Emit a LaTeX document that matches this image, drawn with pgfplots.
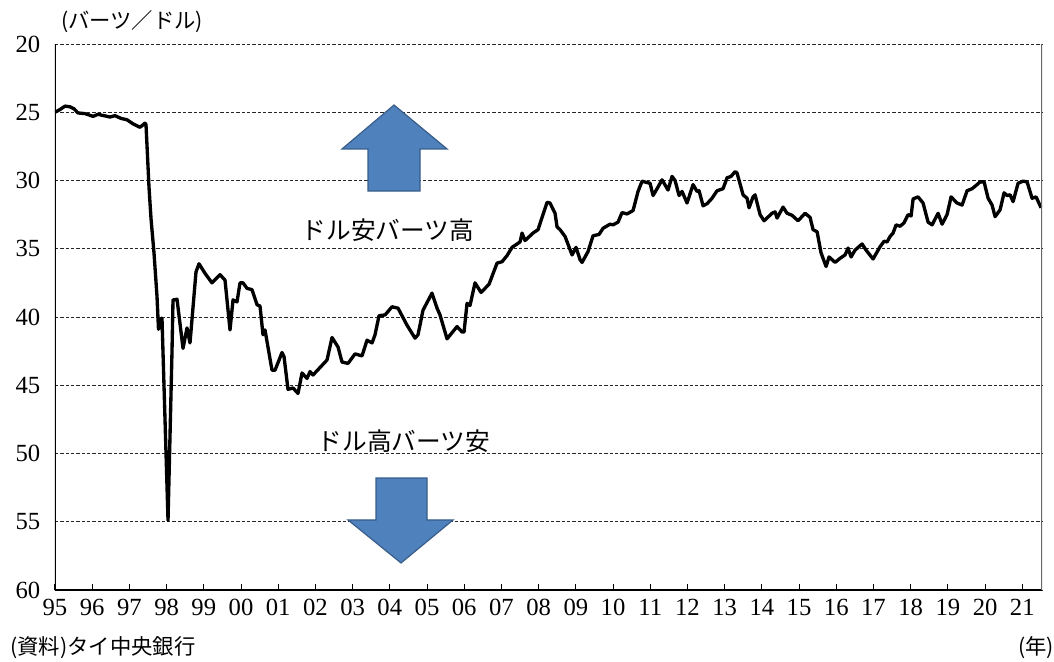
\documentclass[border=0pt]{standalone}
\usepackage{fontspec}
\setmainfont{Liberation Serif}
\newfontfamily\jp{Noto Sans CJK JP}
\usepackage{pgfplots}
\pgfplotsset{compat=1.18}
\definecolor{arrowfill}{HTML}{4F81BD}
\definecolor{arrowdraw}{HTML}{385D8A}
\begin{document}
\begin{tikzpicture}
\useasboundingbox (-41.25pt,-53.25pt) rectangle (749.25pt,442.5pt);
\begin{axis}[
  at={(0,0)}, anchor=south west,
  scale only axis, width=740.25pt, height=409.5pt,
  xmin=1995, xmax=2021.53, ymin=20, ymax=60, y dir=reverse,
  xtick={1995,1996,...,2021},
  xticklabels={95,96,97,98,99,00,01,02,03,04,05,06,07,08,09,10,11,12,13,14,15,16,17,18,19,20,21},
  ytick={20,25,...,60},
  ymajorgrids,
  y grid style={black!85, line width=0.55pt, dash pattern=on 2.5pt off 1.5pt},
  axis line style={draw=none},
  xtick style={black, line width=0.75pt},
  ytick style={draw=none},
  xtick align=inside, major tick length=4.5pt,
  xtick pos=left, ytick pos=left,
  tick label style={font=\fontsize{18.5}{20}\selectfont},
  /pgf/number format/assume math mode=true,
  yticklabel style={xshift=-7.5pt},
  xticklabel style={yshift=-3.5pt},
]
\addplot[black, line width=2.5pt, line join=round, mark=none] coordinates {
(1995.000,25.00) (1995.134,24.80) (1995.269,24.55) (1995.403,24.60) (1995.511,24.75)
(1995.618,25.05) (1995.806,25.10) (1996.022,25.30) (1996.156,25.15) (1996.317,25.25)
(1996.478,25.35) (1996.613,25.25) (1996.774,25.45) (1996.935,25.55) (1997.097,25.85)
(1997.285,26.10) (1997.419,25.80) (1997.446,25.90) (1997.527,30.50) (1997.581,32.80)
(1997.661,35.30) (1997.742,38.50) (1997.782,40.90) (1997.849,40.10) (1997.876,40.10)
(1998.038,54.90) (1998.145,42.50) (1998.172,38.75) (1998.280,38.70) (1998.441,42.30)
(1998.548,40.80) (1998.629,41.90) (1998.790,36.70) (1998.871,36.10) (1999.032,36.80)
(1999.220,37.50) (1999.435,36.90) (1999.570,37.30) (1999.704,40.95) (1999.785,38.75)
(1999.892,38.90) (1999.973,37.50) (2000.054,37.50) (2000.161,37.90) (2000.296,38.00)
(2000.430,39.10) (2000.511,39.20) (2000.591,41.30) (2000.645,40.95) (2000.833,43.90)
(2000.914,43.90) (2001.102,42.60) (2001.156,42.90) (2001.263,45.30) (2001.398,45.20)
(2001.532,45.60) (2001.640,44.10) (2001.774,44.50) (2001.855,44.00) (2001.935,44.25)
(2002.124,43.70) (2002.312,43.15) (2002.446,41.50) (2002.608,42.20) (2002.715,43.30)
(2002.876,43.40) (2003.065,42.70) (2003.253,42.85) (2003.387,41.70) (2003.522,41.90)
(2003.602,41.30) (2003.710,39.90) (2003.871,39.85) (2004.059,39.25) (2004.220,39.35)
(2004.462,40.60) (2004.677,41.55) (2004.758,41.30) (2004.892,39.50) (2005.134,38.25)
(2005.269,39.35) (2005.349,39.85) (2005.538,41.60) (2005.806,40.70) (2005.941,41.10)
(2005.995,41.10) (2006.075,39.00) (2006.156,39.15) (2006.290,37.50) (2006.452,38.20)
(2006.667,37.60) (2006.882,36.05) (2007.016,35.95) (2007.151,35.50) (2007.285,34.90)
(2007.500,34.50) (2007.554,33.85) (2007.634,34.40) (2007.849,33.85) (2007.984,33.60)
(2008.226,31.60) (2008.306,31.65) (2008.441,32.40) (2008.495,33.40) (2008.575,33.60)
(2008.710,34.10) (2008.898,35.45) (2009.005,34.90) (2009.113,35.80) (2009.167,36.00)
(2009.328,35.20) (2009.462,34.05) (2009.624,33.95) (2009.731,33.50) (2009.919,33.20)
(2010.000,33.25) (2010.134,33.05) (2010.242,32.35) (2010.376,32.45) (2010.538,32.20)
(2010.672,30.80) (2010.780,30.05) (2010.914,30.15) (2010.995,30.20) (2011.075,31.10)
(2011.183,30.60) (2011.317,29.95) (2011.478,30.70) (2011.586,29.70) (2011.667,30.00)
(2011.774,31.10) (2011.855,30.80) (2011.989,31.65) (2012.151,30.30) (2012.258,30.80)
(2012.312,30.75) (2012.419,31.85) (2012.527,31.70) (2012.661,31.30) (2012.796,30.75)
(2012.957,30.60) (2013.065,29.80) (2013.172,29.70) (2013.280,29.35) (2013.333,29.45)
(2013.495,31.05) (2013.602,31.30) (2013.656,32.00) (2013.763,31.20) (2013.817,31.05)
(2013.952,32.50) (2014.059,32.95) (2014.274,32.40) (2014.355,32.30) (2014.409,32.75)
(2014.570,31.95) (2014.677,32.40) (2014.812,32.55) (2014.973,32.95) (2015.161,32.40)
(2015.296,32.70) (2015.376,33.60) (2015.484,33.75) (2015.591,35.30) (2015.726,36.30)
(2015.806,35.60) (2015.968,36.00) (2016.102,35.70) (2016.237,35.45) (2016.317,34.95)
(2016.398,35.60) (2016.505,35.10) (2016.694,34.65) (2016.801,35.10) (2016.989,35.75)
(2017.177,34.85) (2017.285,34.45) (2017.366,34.50) (2017.446,34.10) (2017.527,33.85)
(2017.608,33.25) (2017.715,33.35) (2017.823,33.10) (2017.930,32.50) (2018.011,32.60)
(2018.065,31.35) (2018.199,31.20) (2018.333,31.65) (2018.468,33.05) (2018.575,33.25)
(2018.737,32.40) (2018.844,33.20) (2018.978,32.50) (2019.086,31.20) (2019.247,31.65)
(2019.382,31.80) (2019.516,30.75) (2019.651,30.60) (2019.785,30.30) (2019.866,30.10)
(2019.973,30.10) (2020.081,31.30) (2020.188,31.80) (2020.269,32.65) (2020.403,32.15)
(2020.511,30.90) (2020.591,31.10) (2020.672,31.05) (2020.753,31.55) (2020.887,30.20)
(2021.022,30.05) (2021.129,30.10) (2021.263,31.30) (2021.371,31.20) (2021.505,32.00)
};
% axis lines
\draw[black, line width=1pt] (axis cs:1995,20) -- (axis cs:1995,60) -- (axis cs:2021.53,60);
\draw[black!60, line width=1pt] (axis cs:2021.53,60) -- (axis cs:2021.53,20);
% arrows
\filldraw[fill=arrowfill, draw=arrowdraw, line width=0.9pt, line join=miter]
  (axis cs:2004.113,24.47) -- (axis cs:2005.538,27.69) -- (axis cs:2004.812,27.69)
  -- (axis cs:2004.812,30.77) -- (axis cs:2003.414,30.77) -- (axis cs:2003.414,27.69)
  -- (axis cs:2002.715,27.69) -- cycle;
\filldraw[fill=arrowfill, draw=arrowdraw, line width=0.9pt, line join=miter]
  (axis cs:2004.301,58.02) -- (axis cs:2005.699,54.87) -- (axis cs:2005.000,54.87)
  -- (axis cs:2005.000,51.80) -- (axis cs:2003.629,51.80) -- (axis cs:2003.629,54.87)
  -- (axis cs:2002.876,54.87) -- cycle;
\node[font=\jp\fontsize{18.5}{20}\selectfont] at (axis cs:2003.952,33.63) {ドル安バーツ高};
\node[font=\jp\fontsize{18.5}{20}\selectfont] at (axis cs:2004.382,49.08) {ドル高バーツ安};
\end{axis}
\node[font=\jp\fontsize{16}{18}\selectfont] at (57.75pt,426pt) {(バーツ／ドル)};
\node[font=\jp\fontsize{16}{18}\selectfont, anchor=west, inner sep=0pt] at (-33.75pt,-43.5pt) {(資料)タイ中央銀行};
\node[font=\jp\fontsize{16}{18}\selectfont] at (735.75pt,-43.5pt) {(年)};
\end{tikzpicture}
\end{document}
